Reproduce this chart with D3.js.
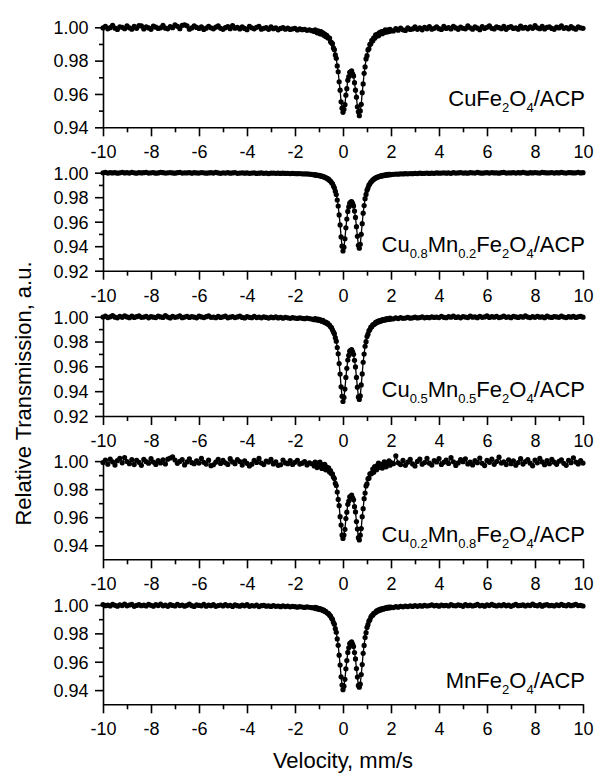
<!DOCTYPE html>
<html>
<head>
<meta charset="utf-8">
<script src="https://cdn.jsdelivr.net/npm/d3@7"></script>
<style>
  body { margin: 0; background: #fff; }
  svg { display: block; }
  text { font-family: "Liberation Sans", Arial, sans-serif; fill: #000; }
</style>
</head>
<body>
<svg id="chart" width="595" height="774"></svg>
<script>
// Velocity grid (mm/s): 0.1 mm/s steps on the flat baseline, 0.04 mm/s across the doublet
const velocityLeft = d3.range(88).map(i => +(-10 + i * 0.1).toFixed(2));   // -10.0 … -1.3
const velocityDip = d3.range(81).map(i => +(-1.2 + i * 0.04).toFixed(2));  // -1.20 … 2.00
const velocityRight = d3.range(80).map(i => +(2.1 + i * 0.1).toFixed(2));  // 2.1 … 10.0

// Absorption below unit transmission, in units of 1e-4 (transmission = 1 - a/10000)
const cuFeLeft = [4, -6, 9, 2, -11, 5, 13, -3, 0, 8, -9, 3, 11, -5, 6, -10, -8, 10, -2, 4, 12, -7, -1, 7, 3, -12, 5, 9, -4, 2, -15, -6, 8, -12, -14, -9, 11, 4, -9, 1, 7, -2, 13, 5, -6, 3, 9, -1, -8, 6, 12, 2, -4, 8, -10, 5, 1, 10, -3, 7, 14, -5, 3, 9, 0, -6, 11, 6, 2, 12, -3, 8, 4, 15, 7, 2, 11, 5, 13, 9, 6, 16, 10, 14, 12, 18, 15, 20];
const cuFeDip = [25, 15, 25, 33, 21, 29, 39, 26, 40, 33, 47, 41, 55, 48, 62, 64, 65, 87, 92, 98, 124, 134, 166, 186, 232, 267, 327, 377, 447, 485, 510, 492, 464, 407, 368, 317, 296, 270, 268, 261, 279, 292, 332, 377, 419, 477, 507, 530, 502, 462, 392, 340, 276, 238, 190, 170, 136, 129, 103, 99, 78, 81, 63, 65, 46, 53, 41, 50, 32, 38, 26, 38, 26, 31, 16, 26, 28, 16, 25, 13, 21];
const cuFeRight = [22, 8, 17, 5, 15, 19, 3, 13, 10, -2, 12, 4, 15, 1, 9, -4, 11, 6, -3, 8, 13, -5, 7, 2, 10, -6, 4, 12, -1, 6, 9, -8, 3, 11, -2, 5, 14, -4, 7, 0, -9, 6, 10, -3, 2, 8, -6, 12, 1, -4, 7, 3, 11, -7, 5, 0, 9, -2, 6, -10, 3, 8, -5, 10, 1, -3, 7, 12, -1, 4, -8, 6, 2, 9, -4, 5, 11, -2, 3, 6];

const cu08Left = [1, -2, 3, 0, 2, -1, 4, 1, -3, 2, 0, 3, -2, 1, 4, -1, 2, 0, -3, 3, 1, -1, 4, 2, -2, 0, 3, 1, -1, 2, 4, 0, -2, 3, 1, 2, -1, 4, 0, 2, 3, -1, 1, 4, 2, 0, 3, -2, 2, 5, 1, 3, 0, 4, 2, -1, 5, 3, 1, 4, 2, 5, 3, 1, 6, 4, 2, 5, 3, 7, 4, 3, 5, 4, 6, 4, 6, 5, 7, 6, 7, 8, 7, 9, 10, 10, 12, 14];
const cu08Dip = [18, 16, 21, 19, 23, 21, 27, 25, 30, 29, 36, 35, 42, 44, 51, 53, 64, 68, 81, 89, 108, 123, 151, 178, 223, 272, 345, 426, 524, 600, 639, 608, 539, 450, 378, 316, 279, 249, 241, 236, 251, 271, 313, 365, 441, 519, 593, 616, 585, 503, 416, 330, 268, 212, 177, 143, 124, 102, 91, 76, 70, 58, 56, 46, 45, 37, 38, 31, 32, 26, 28, 22, 25, 19, 22, 16, 19, 14, 18, 13, 15];
const cu08Right = [13, 11, 12, 9, 10, 8, 9, 7, 8, 6, 7, 4, 6, 5, 3, 6, 4, 5, 2, 4, 3, 1, 4, 2, 5, 0, 3, 2, -1, 3, 2, 4, 0, 1, 3, -2, 2, 4, 1, 0, 3, -1, 2, 1, 4, 0, -2, 3, 1, 2, -1, 3, 0, 2, -3, 1, 4, 0, 2, -1, 1, 3, -2, 0, 2, 1, -1, 3, 0, 2, -2, 1, 3, -1, 0, 2, 1, -3, 2, 0];

const cu05Left = [3, -5, 7, 1, -8, 4, 9, -2, 5, -6, 2, 8, -4, 6, 0, -7, 5, 3, -3, 9, -1, 4, 7, -5, 2, 6, -8, 3, 10, -2, 5, 1, -6, 8, 3, -3, 6, -1, 4, 9, -4, 2, 7, 0, -6, 5, 3, 8, -2, 6, 1, -5, 9, 4, -1, 7, 2, -4, 6, 10, 0, 5, 8, -3, 7, 3, 9, 1, 6, 11, 4, 8, 2, 10, 6, 12, 5, 9, 13, 8, 11, 14, 9, 13, 16, 12, 15, 19];
const cu05Dip = [24, 15, 22, 27, 19, 29, 24, 33, 36, 30, 41, 46, 43, 54, 52, 65, 67, 81, 87, 105, 123, 137, 169, 197, 248, 299, 378, 462, 565, 641, 683, 650, 583, 489, 416, 349, 312, 278, 271, 265, 283, 303, 351, 405, 489, 568, 646, 667, 638, 550, 461, 367, 301, 238, 201, 160, 141, 114, 104, 84, 81, 66, 63, 58, 46, 49, 37, 42, 31, 36, 33, 24, 29, 27, 19, 25, 16, 22, 21, 12, 19];
const cu05Right = [17, 10, 15, 8, 13, 11, 6, 12, 9, 4, 10, 7, 2, 9, 5, 8, 1, 6, 3, 7, -2, 5, 8, 0, 4, -4, 6, 2, 9, -1, 3, 7, -5, 4, 1, 8, -3, 5, 2, -6, 6, 0, 4, -2, 7, 3, -4, 5, 1, 8, -3, 2, 6, -1, 4, -6, 3, 7, 0, 5, -2, 4, 1, 8, -4, 3, 6, -1, 2, 5, -5, 3, 7, 0, 4, -3, 6, 1, -2, 4];

const cu02Left = [10, -8, 22, -15, 5, 28, -3, -20, 12, -25, 3, 18, -10, 25, -6, 9, 30, -12, 4, 15, -18, 7, 24, -4, 13, -9, 20, -14, -22, -30, -8, 16, 2, -11, 27, 6, -16, 11, 19, -2, 14, -20, 9, 21, -7, 33, 26, 8, -13, 17, -5, 12, 24, -17, 6, 19, -10, 3, 28, -1, 16, 35, 22, -6, 10, -19, 14, 25, 0, 7, -12, 20, 5, 30, 26, -8, 13, 18, -4, 24, 9, -6, 21, 15, 3, 27, 12, 19];
const cu02Dip = [35, 7, 28, 46, 14, 38, 8, 34, 52, 26, 47, 24, 62, 43, 61, 48, 78, 67, 91, 90, 114, 124, 158, 174, 221, 273, 318, 396, 456, 527, 551, 527, 486, 410, 364, 308, 285, 255, 253, 242, 262, 276, 325, 362, 431, 484, 546, 562, 528, 481, 396, 339, 268, 228, 177, 163, 126, 122, 91, 92, 86, 57, 79, 39, 53, 61, 29, 14, 41, 46, 23, 50, 22, 6, 32, 41, 11, 22, -2, 29, 10];
const cu02Right = [18, -38, 12, 25, -5, 30, 8, -12, 20, 35, 2, -15, 22, 10, -20, 15, 28, -4, 6, -18, 24, 9, -8, 17, -25, 5, 31, 13, -10, 4, -16, 20, 7, 27, -3, 11, -22, 16, 32, -6, 9, -14, 23, 3, -28, 14, 6, 25, -9, 18, -2, 29, 10, -17, 21, 4, -11, 15, 34, -7, 12, -20, 6, 26, -4, 19, -13, 8, 23, 1, -9, 16, 30, -6, 11, -24, 7, 20, -3, 14];

const mnFeLeft = [-3, 5, 1, 7, -4, 2, 8, -1, 4, -6, 6, 0, -5, 9, 3, -2, 5, 1, 7, -4, 2, 8, -3, 4, -7, 6, 1, 9, -2, 3, 7, -5, 4, 0, 8, 2, -6, 5, 10, -1, 3, 6, -4, 8, 1, 5, -2, 9, 4, 0, 7, -3, 6, 2, 10, -1, 5, 8, 1, 6, -2, 9, 4, 7, 0, 11, 5, 3, 8, 6, 10, 4, 9, 7, 12, 6, 11, 8, 13, 10, 12, 15, 11, 14, 17, 13, 16, 19];
const mnFeDip = [22, 17, 26, 20, 24, 31, 25, 33, 30, 38, 36, 45, 44, 53, 59, 60, 73, 77, 92, 100, 122, 135, 167, 192, 239, 284, 354, 423, 506, 564, 597, 572, 524, 450, 392, 334, 302, 272, 266, 259, 276, 293, 335, 380, 448, 508, 567, 579, 558, 490, 420, 341, 285, 229, 195, 158, 139, 114, 104, 85, 74, 72, 58, 57, 53, 41, 44, 35, 38, 29, 33, 25, 28, 27, 20, 24, 17, 22, 15, 20, 14];
const mnFeRight = [18, 12, 15, 10, 13, 8, 11, 6, 10, 4, 9, 5, 8, 2, 7, 4, -1, 6, 3, 8, 0, 5, 2, 7, -3, 4, 6, -1, 3, 9, -2, 5, 1, 7, 3, -4, 6, 2, 8, -1, 4, -5, 3, 7, 0, 5, -3, 6, 1, 9, 2, -4, 5, 3, -1, 7, 0, 4, -6, 3, 6, -2, 8, 1, -3, 5, 2, 7, -1, 4, -4, 3, 6, -2, 5, 1, -5, 4, 2, 7];

// Sample names, split into [text, isSubscript] runs
const sampleNames = [
  [["CuFe"], ["2", 1], ["O"], ["4", 1], ["/ACP"]],
  [["Cu"], ["0.8", 1], ["Mn"], ["0.2", 1], ["Fe"], ["2", 1], ["O"], ["4", 1], ["/ACP"]],
  [["Cu"], ["0.5", 1], ["Mn"], ["0.5", 1], ["Fe"], ["2", 1], ["O"], ["4", 1], ["/ACP"]],
  [["Cu"], ["0.2", 1], ["Mn"], ["0.8", 1], ["Fe"], ["2", 1], ["O"], ["4", 1], ["/ACP"]],
  [["MnFe"], ["2", 1], ["O"], ["4", 1], ["/ACP"]]
];

const spectra = [
  [cuFeLeft, cuFeDip, cuFeRight],
  [cu08Left, cu08Dip, cu08Right],
  [cu05Left, cu05Dip, cu05Right],
  [cu02Left, cu02Dip, cu02Right],
  [mnFeLeft, mnFeDip, mnFeRight]
];

// y-axis ranges and ticks of each panel
const yMinimum = [0.94, 0.92, 0.92, 0.93, 0.93];
const yMajorTicks = [
  [0.94, 0.96, 0.98, 1.00],
  [0.92, 0.94, 0.96, 0.98, 1.00],
  [0.92, 0.94, 0.96, 0.98, 1.00],
  [0.94, 0.96, 0.98, 1.00],
  [0.94, 0.96, 0.98, 1.00]
];
const yMinorTicks = [
  [0.95, 0.97, 0.99],
  [0.93, 0.95, 0.97, 0.99],
  [0.93, 0.95, 0.97, 0.99],
  [0.95, 0.97, 0.99],
  [0.95, 0.97, 0.99]
];
const xMajorTicks = [-10, -8, -6, -4, -2, 0, 2, 4, 6, 8, 10];
const xMinorTicks = [-9, -7, -5, -3, -1, 1, 3, 5, 7, 9];

// ---- layout ----
const svg = d3.select("#chart");
const plotLeft = 103, plotRight = 583;
const panelBottom = [127.3, 270.7, 416, 559.3, 704.3];   // pixel row of each x axis
const panelUnity = [27.3, 172.7, 316.7, 461.1, 605];      // pixel row of transmission 1.00
const nameBaseline = [106, 251.7, 397, 541.7, 688.3];
const AXIS_W = 1.6;
const TICK_FONT = 18;

const x = d3.scaleLinear().domain([-10, 10]).range([plotLeft, plotRight]);

function styleAxis(g) {
  g.attr("font-family", null).attr("font-size", null);
  g.selectAll("path, line").attr("stroke", "#000").attr("stroke-width", AXIS_W);
}

spectra.forEach((parts, k) => {
  const yTop = 1.001;
  const y = d3.scaleLinear()
    .domain([yMinimum[k], 1.0])
    .range([panelBottom[k], panelUnity[k]]);
  const yAxisScale = d3.scaleLinear()
    .domain([yMinimum[k], yTop])
    .range([panelBottom[k], y(yTop)]);

  const panel = svg.append("g").attr("class", "panel");

  // points of this spectrum
  const velocity = [...velocityLeft, ...velocityDip, ...velocityRight];
  const absorption = [...parts[0], ...parts[1], ...parts[2]];
  const points = velocity.map((v, i) => ({ v, t: 1 - absorption[i] / 10000 }));

  // x axis: labelled even ticks, shorter odd ticks
  const gx = panel.append("g").attr("transform", `translate(0,${panelBottom[k]})`);
  gx.call(d3.axisBottom(x).tickValues(xMajorTicks).tickSize(9).tickSizeOuter(0)
    .tickFormat(d => String(d)));
  gx.call(styleAxis);
  gx.selectAll("text").attr("y", 31).attr("dy", null)
    .attr("font-size", TICK_FONT).attr("fill", "#000");
  const gxm = panel.append("g").attr("transform", `translate(0,${panelBottom[k]})`);
  gxm.call(d3.axisBottom(x).tickValues(xMinorTicks).tickSize(5).tickSizeOuter(0).tickFormat(""));
  gxm.call(styleAxis);
  gxm.select(".domain").remove();

  // y axis
  const gy = panel.append("g").attr("transform", `translate(${plotLeft},0)`);
  gy.call(d3.axisLeft(yAxisScale).tickValues(yMajorTicks[k]).tickSize(8).tickSizeOuter(0)
    .tickPadding(6.5).tickFormat(d3.format(".2f")));
  gy.call(styleAxis);
  gy.selectAll("text").attr("font-size", TICK_FONT).attr("fill", "#000").attr("dy", "0.35em");
  const gym = panel.append("g").attr("transform", `translate(${plotLeft},0)`);
  gym.call(d3.axisLeft(yAxisScale).tickValues(yMinorTicks[k]).tickSize(4).tickSizeOuter(0).tickFormat(""));
  gym.call(styleAxis);
  gym.select(".domain").remove();

  // spectrum: connecting line plus filled markers
  const line = d3.line().x(d => x(d.v)).y(d => y(d.t));
  panel.append("path").datum(points)
    .attr("d", line).attr("fill", "none").attr("stroke", "#000").attr("stroke-width", 1.3);
  panel.append("g").selectAll("circle").data(points).join("circle")
    .attr("cx", d => x(d.v)).attr("cy", d => y(d.t)).attr("r", 2.6).attr("fill", "#000");

  // sample name
  const label = panel.append("text")
    .attr("x", 585).attr("y", nameBaseline[k])
    .attr("text-anchor", "end").attr("font-size", 22);
  let lowered = false;
  sampleNames[k].forEach(([txt, sub]) => {
    const ts = label.append("tspan").text(txt);
    if (sub && !lowered) { ts.attr("font-size", 13).attr("dy", 6); lowered = true; }
    else if (!sub && lowered) { ts.attr("dy", -6); lowered = false; }
    else if (sub) { ts.attr("font-size", 13); }
  });
});

// axis titles
svg.append("text")
  .attr("x", (plotLeft + plotRight) / 2).attr("y", 768)
  .attr("text-anchor", "middle").attr("font-size", 22)
  .text("Velocity, mm/s");
svg.append("text")
  .attr("transform", "translate(31,393.5) rotate(-90)")
  .attr("text-anchor", "middle").attr("font-size", 22)
  .text("Relative Transmission, a.u.");
</script>
</body>
</html>
